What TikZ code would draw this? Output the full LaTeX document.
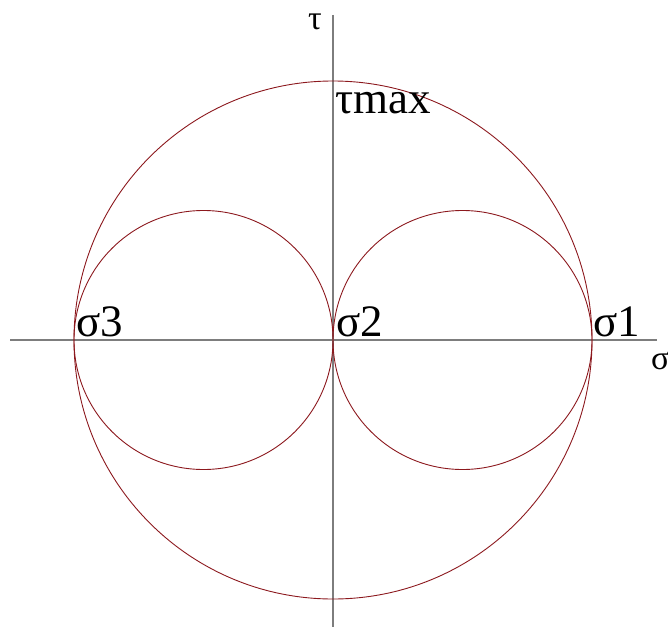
\documentclass[tikz,border=0pt]{standalone}
\usepackage{fontspec}
\setmainfont{Liberation Serif}
\usetikzlibrary{positioning}
\definecolor{mohrRed}{RGB}{140,25,30}
\definecolor{axisGray}{RGB}{125,125,125}

\begin{document}
\begin{tikzpicture}[x=1pt,y=-1pt,
    axis/.style={draw=axisGray, line width=1.3pt},
    mohr/.style={draw=mohrRed, line width=0.9pt},
    ptlabel/.style={anchor=base west, inner sep=0pt, font=\fontsize{45}{50}\selectfont},
    axlabel/.style={anchor=base west, inner sep=0pt, font=\fontsize{34}{38}\selectfont}]
  \useasboundingbox (0,0) rectangle (668,626);
  \clip (0,0) rectangle (668,626);
  % axes
  \coordinate (sigL) at (10,340);
  \coordinate (sigR) at (657,340);
  \coordinate (tauT) at (333,15);
  \coordinate (tauB) at (333,630);
  \draw[axis] (sigL) -- (sigR);
  \draw[axis] (tauT) -- (tauB);
  % Mohr circles
  \coordinate (cBig) at (333,340);
  \coordinate (cLeft) at (203.5,340);
  \coordinate (cRight) at (462.5,340);
  \draw[mohr] (cBig) circle[radius=259];
  \draw[mohr] (cLeft) circle[radius=129.5];
  \draw[mohr] (cRight) circle[radius=129.5];
  % labels
  \node[axlabel] (tau) at (308,30) {τ};
  \node[axlabel] (sigma) at (651,369) {σ};
  \node[ptlabel] (taumax) at (335,113) {τmax};
  \node[ptlabel] (s3) at (76,336) {σ3};
  \node[ptlabel] (s2) at (336,336) {σ2};
  \node[ptlabel] (s1) at (593,336) {σ1};
\end{tikzpicture}
\end{document}
